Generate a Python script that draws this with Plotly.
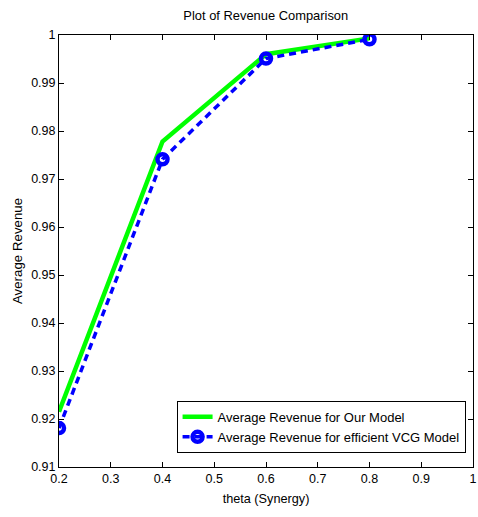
import plotly.graph_objects as go

theta = [0.2, 0.4, 0.6, 0.8]
rev_our = [0.9215, 0.9778, 0.9960, 0.9993]
rev_vcg = [0.9181, 0.9741, 0.9951, 0.9991]
x_ticks = [0.2, 0.3, 0.4, 0.5, 0.6, 0.7, 0.8, 0.9, 1]
y_ticks = [0.91, 0.92, 0.93, 0.94, 0.95, 0.96, 0.97, 0.98, 0.99, 1]

font = "Liberation Sans, Arial, sans-serif"

fig = go.Figure()
fig.add_trace(go.Scatter(x=theta, y=rev_our, mode="lines",
                         name="Average Revenue for Our Model",
                         line=dict(color="#00ff00", width=4.5)))
fig.add_trace(go.Scatter(x=theta, y=rev_vcg, mode="lines+markers",
                         name="Average Revenue for efficient VCG Model",
                         line=dict(color="#0000ff", width=3.5, dash="7px,5px"),
                         marker=dict(symbol="circle-open", size=10, color="#0000ff",
                                     line=dict(width=4.5, color="#0000ff"))))

axis_common = dict(showgrid=False, zeroline=False, showline=True, linecolor="black",
                   linewidth=1, mirror="ticks", ticks="inside", ticklen=5,
                   tickcolor="black", tickfont=dict(family=font, size=12.5, color="black"))

fig.update_layout(
    width=478, height=517,
    margin=dict(l=59, r=5, t=35, b=50, autoexpand=False),
    paper_bgcolor="white", plot_bgcolor="white",
    title=dict(text="Plot of Revenue Comparison", x=0.556, xanchor="center",
               y=0.971, yanchor="middle",
               font=dict(family=font, size=12.9, color="black")),
    xaxis=dict(range=[0.2, 1], tickvals=x_ticks, ticktext=[str(v) for v in x_ticks],
               title=dict(text="theta (Synergy)", standoff=9,
                          font=dict(family=font, size=12.7, color="black")),
               **axis_common),
    yaxis=dict(range=[0.91, 1], tickvals=y_ticks, ticktext=[str(v) for v in y_ticks],
               title=dict(text="Average Revenue", standoff=5,
                          font=dict(family=font, size=13.3, color="black")),
               **axis_common),
    legend=dict(x=0.284, y=0.153, xanchor="left", yanchor="top",
                bordercolor="black", borderwidth=1, bgcolor="white",
                font=dict(family=font, size=13, color="black"),
                tracegroupgap=0),
    showlegend=True,
)

fig.write_html("out.html")
